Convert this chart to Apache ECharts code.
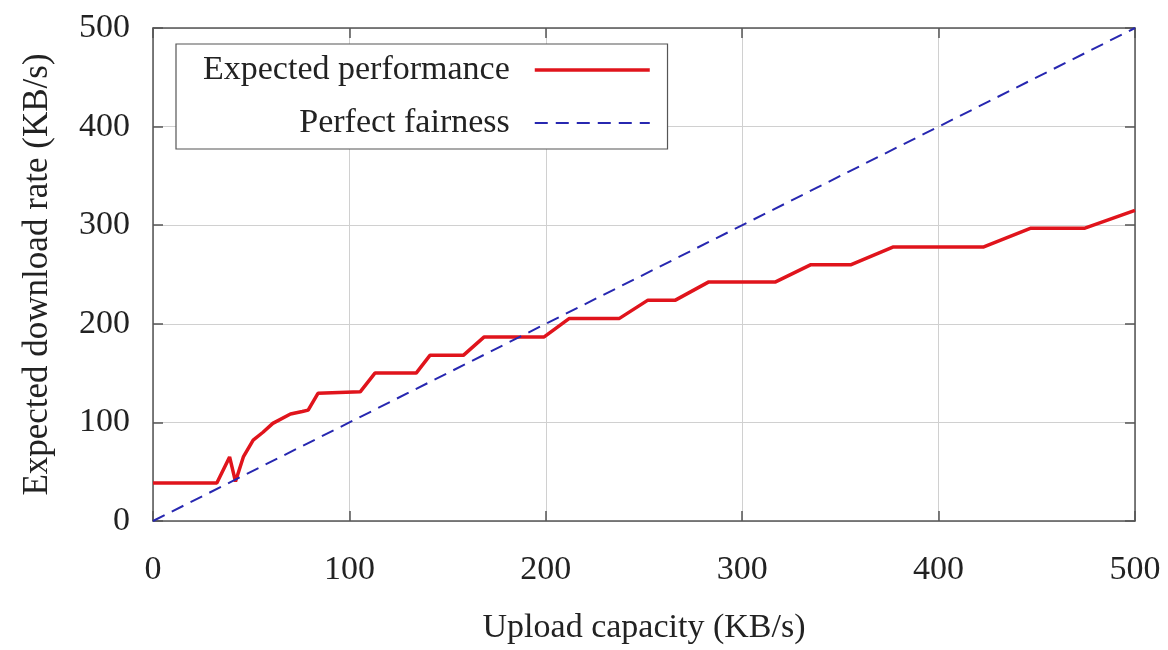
<!DOCTYPE html>
<html>
<head>
<meta charset="utf-8">
<script src="https://cdn.jsdelivr.net/npm/echarts@6/dist/echarts.min.js"></script>
<style>
  html, body { margin: 0; padding: 0; background: #fff; }
  #chart { width: 1168px; height: 650px; }
</style>
</head>
<body>
<div id="chart"></div>
<script>
// expected download rate vs upload capacity
const uploadCap = [0, 32.5, 39, 42, 46, 51, 56, 61, 70, 76, 79, 84, 105.5, 113, 134, 141, 158, 168.5, 199, 212,
  237.5, 252, 266, 283, 317, 335, 355.5, 377, 423, 447, 474.5, 500];
const downloadRate = [38.5, 38.5, 65, 40, 65, 82, 90, 99, 108.5, 111, 112.5, 129.5, 131, 150, 150, 168, 168, 186.5, 186.5, 205.5,
  205.5, 224, 224, 242.5, 242.5, 260, 260, 278, 278, 297, 297, 315];
const fairX = [0, 500];
const fairY = [0, 500];
const seriesNames = ['Expected performance', 'Perfect fairness'];

const font = '"Liberation Serif", "DejaVu Serif", serif';
const frameColor = '#555';
const red = '#e0141c';
const blue = '#2727b0';

const chart = echarts.init(document.getElementById('chart'));

function zip(xs, ys) {
  return xs.map((x, i) => [x, ys[i]]);
}

const axisBase = {
  type: 'value',
  min: 0,
  max: 500,
  interval: 100,
  axisLine: { show: true, onZero: false, lineStyle: { color: frameColor, width: 1.5 } },
  axisTick: { show: true, inside: true, length: 10, lineStyle: { color: frameColor, width: 1.5 } }
};

chart.setOption({
  backgroundColor: '#fff',
  animation: false,
  grid: { left: 153, right: 33, top: 28, bottom: 129 },
  legend: {
    orient: 'vertical',
    left: 176,
    top: 44,
    align: 'right',
    itemWidth: 115,
    itemHeight: 14,
    itemGap: 19,
    padding: [9, 16, 9, 27],
    borderColor: frameColor,
    borderWidth: 1.2,
    backgroundColor: '#fff',
    itemStyle: { opacity: 0 },
    data: [
      { name: seriesNames[0], lineStyle: { width: 3.5 } },
      { name: seriesNames[1], lineStyle: { width: 2 } }
    ],
    textStyle: { fontFamily: font, fontSize: 34, color: '#222', padding: [0, 20, 0, 0] }
  },
  xAxis: [
    Object.assign({}, axisBase, {
      name: 'Upload capacity (KB/s)',
      nameLocation: 'middle',
      nameGap: 90,
      nameTextStyle: { fontFamily: font, fontSize: 34, color: '#222' },
      axisLabel: { margin: 32, fontFamily: font, fontSize: 34, color: '#222' },
      splitLine: { show: true, lineStyle: { color: '#d0d0d0', width: 1 } }
    }),
    Object.assign({}, axisBase, {
      position: 'top',
      axisLabel: { show: false },
      splitLine: { show: false }
    })
  ],
  yAxis: [
    Object.assign({}, axisBase, {
      name: 'Expected download rate (KB/s)',
      nameLocation: 'middle',
      nameGap: 98,
      nameTextStyle: { fontFamily: font, fontSize: 35, color: '#222' },
      axisLabel: { margin: 23, fontFamily: font, fontSize: 34, color: '#222' },
      splitLine: { show: true, lineStyle: { color: '#d0d0d0', width: 1 } }
    }),
    Object.assign({}, axisBase, {
      position: 'right',
      axisLabel: { show: false },
      splitLine: { show: false }
    })
  ],
  series: [
    {
      name: seriesNames[0],
      type: 'line',
      data: zip(uploadCap, downloadRate),
      showSymbol: false,
      symbol: 'none',
      z: 3,
      itemStyle: { color: red },
      lineStyle: { color: red, width: 3.5 }
    },
    {
      name: seriesNames[1],
      type: 'line',
      data: zip(fairX, fairY),
      showSymbol: false,
      symbol: 'none',
      z: 4,
      itemStyle: { color: blue },
      lineStyle: { color: blue, width: 2, type: [13, 8] }
    }
  ]
});
window.addEventListener('resize', () => chart.resize());
</script>
</body>
</html>
